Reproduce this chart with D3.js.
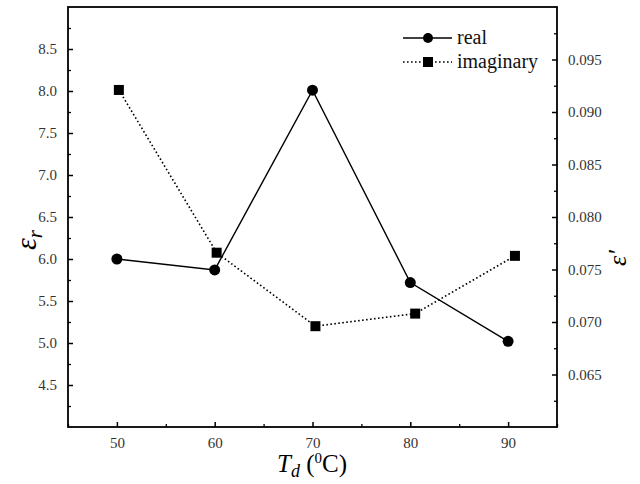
<!DOCTYPE html>
<html lang="en">
<head>
<meta charset="utf-8">
<title>Td chart</title>
<script src="https://cdn.jsdelivr.net/npm/d3@7"></script>
<style>
  body { margin: 0; background: #fff; }
</style>
</head>
<body>
<script>
// data
var temps = [50, 60, 70, 80, 90];
var realVals = [6.0, 5.87, 8.01, 5.72, 5.02];
var imagTemps = [50.2, 60.2, 70.3, 80.5, 90.7];
var imagVals = [0.0921, 0.0766, 0.0696, 0.0708, 0.0763];
var xTicks = [50, 60, 70, 80, 90];
var leftTicks = [4.5, 5.0, 5.5, 6.0, 6.5, 7.0, 7.5, 8.0, 8.5];
var rightTicks = [0.065, 0.070, 0.075, 0.080, 0.085, 0.090, 0.095];

var w = 640, h = 484;
var serif = "Liberation Serif";
// plot box (note: "top" is taken by window.top, so use pTop etc.)
var pLeft = 68, pRight = 557, pTop = 7, pBottom = 427;

var svg = d3.select("body").append("svg").attr("width", w).attr("height", h)
  .attr("font-family", serif);

var x = d3.scaleLinear().domain([45, 95]).range([pLeft, pRight]);
var yL = d3.scaleLinear().domain([4.0, 9.0]).range([pBottom, pTop]);
var yR = d3.scaleLinear().domain([0.06, 0.10]).range([pBottom, pTop]);

// minor ticks
var xMinor = [45, 55, 65, 75, 85, 95];
var lMinor = d3.range(4.25, 9.0, 0.5);
var rMinor = d3.range(0.0625, 0.1, 0.005);

function minor(g) { g.select(".domain").remove(); g.selectAll("line").attr("stroke-width", 1.3); }

svg.append("g").attr("transform", "translate(0," + pBottom + ")")
  .call(d3.axisBottom(x).tickValues(xMinor).tickSize(-3).tickFormat("")).call(minor);
svg.append("g").attr("transform", "translate(" + pLeft + ",0)")
  .call(d3.axisLeft(yL).tickValues(lMinor).tickSize(-3).tickFormat("")).call(minor);
svg.append("g").attr("transform", "translate(" + pRight + ",0)")
  .call(d3.axisRight(yR).tickValues(rMinor).tickSize(-3).tickFormat("")).call(minor);

// major axes
var xAxis = svg.append("g").attr("transform", "translate(0," + pBottom + ")")
  .call(d3.axisBottom(x).tickValues(xTicks).tickSize(-5).tickPadding(10).tickFormat(d3.format("d")));
var lAxis = svg.append("g").attr("transform", "translate(" + pLeft + ",0)")
  .call(d3.axisLeft(yL).tickValues(leftTicks).tickSize(-5).tickPadding(11).tickFormat(d3.format(".1f")));
var rAxis = svg.append("g").attr("transform", "translate(" + pRight + ",0)")
  .call(d3.axisRight(yR).tickValues(rightTicks).tickSize(-5).tickPadding(11).tickFormat(d3.format(".3f")));

[xAxis, lAxis, rAxis].forEach(function(g){
  g.attr("font-family", serif).attr("font-size", 15);
  g.select(".domain").remove();
  g.selectAll("line").attr("stroke-width", 1.5);
  g.selectAll("text").attr("fill", "#333");
});

// frame
svg.append("rect").attr("x", pLeft).attr("y", pTop)
  .attr("width", pRight - pLeft).attr("height", pBottom - pTop)
  .attr("fill", "none").attr("stroke", "#000").attr("stroke-width", 1.8);

// real series
var realPts = temps.map(function(t, i){ return [x(t), yL(realVals[i])]; });
svg.append("path").attr("d", d3.line()(realPts))
  .attr("fill", "none").attr("stroke", "#000").attr("stroke-width", 1.4);
svg.selectAll("circle.real").data(realPts).enter().append("circle")
  .attr("class", "real").attr("cx", function(d){ return d[0]; }).attr("cy", function(d){ return d[1]; })
  .attr("r", 5.5).attr("fill", "#000");

// imaginary series
var imagPts = imagTemps.map(function(t, i){ return [x(t), yR(imagVals[i])]; });
svg.append("path").attr("d", d3.line()(imagPts))
  .attr("fill", "none").attr("stroke", "#000").attr("stroke-width", 1.6)
  .attr("stroke-dasharray", "1.6,2.4");
svg.selectAll("rect.imag").data(imagPts).enter().append("rect")
  .attr("class", "imag").attr("x", function(d){ return d[0] - 5; }).attr("y", function(d){ return d[1] - 5; })
  .attr("width", 10).attr("height", 10).attr("fill", "#000");

// legend
var lg = svg.append("g").attr("font-size", 20).attr("fill", "#111");
lg.append("line").attr("x1", 403).attr("x2", 452).attr("y1", 38).attr("y2", 38)
  .attr("stroke", "#000").attr("stroke-width", 1.4);
lg.append("circle").attr("cx", 428).attr("cy", 38).attr("r", 5).attr("fill", "#000");
lg.append("text").attr("x", 457).attr("y", 44).text("real");
lg.append("line").attr("x1", 403).attr("x2", 452).attr("y1", 62).attr("y2", 62)
  .attr("stroke", "#000").attr("stroke-width", 1.6).attr("stroke-dasharray", "1.6,2.4");
lg.append("rect").attr("x", 423).attr("y", 57).attr("width", 10).attr("height", 10).attr("fill", "#000");
lg.append("text").attr("x", 457).attr("y", 68).text("imaginary");

// axis titles
var xt = svg.append("text").attr("x", 312).attr("y", 472).attr("text-anchor", "middle").attr("font-size", 25);
xt.append("tspan").attr("font-style", "italic").text("T");
xt.append("tspan").attr("font-style", "italic").attr("font-size", 18).attr("dy", 5).text("d");
xt.append("tspan").attr("dy", -5).text(" (");
xt.append("tspan").attr("font-size", 15).attr("dy", -9).text("0");
xt.append("tspan").attr("dy", 9).text("C)");

var yt = svg.append("text").attr("transform", "translate(36,240) rotate(-90)")
  .attr("text-anchor", "middle").attr("font-size", 30);
yt.append("tspan").attr("font-style", "italic").text("\u03b5");
yt.append("tspan").attr("font-style", "italic").attr("font-size", 21).attr("dy", 6).text("r");

svg.append("text").attr("transform", "translate(626,258) rotate(-90)")
  .attr("text-anchor", "middle").attr("font-size", 26).attr("font-style", "italic").text("\u03b5'");
</script>
</body>
</html>
